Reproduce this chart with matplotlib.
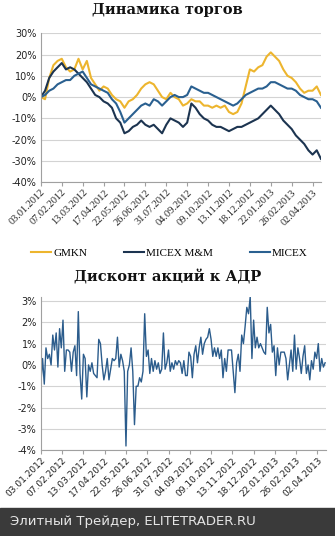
import matplotlib
matplotlib.use("Agg")
import matplotlib.pyplot as plt
from matplotlib.ticker import FuncFormatter
import numpy as np

# ---- data ----
tick_labels = ["03.01.2012", "07.02.2012", "13.03.2012", "17.04.2012", "22.05.2012",
               "26.06.2012", "31.07.2012", "04.09.2012", "09.10.2012", "13.11.2012",
               "18.12.2012", "22.01.2013", "26.02.2013", "02.04.2013"]
tick_step_days = 25  # trading days between labels
n_days = 336

# weekly samples (every 5 trading days), % change
gmkn = [0, -1, 9, 15, 17, 18, 14, 12, 13, 18, 13, 17, 9, 6, 3, 5, 4, 1, -1, -2,
        -5, -2, -1, 1, 4, 6, 7, 6, 3, 0, -1, 2, 0, -1, -4, -3, -1, -2, -2, -4,
        -4, -5, -4, -5, -4, -7, -8, -7, -3, 5, 13, 12, 14, 15, 19, 21, 19, 17, 13, 10,
        9, 7, 4, 2, 3, 3, 5, 1]
micex_mm = [0, 3, 9, 12, 14, 16, 13, 14, 13, 11, 9, 7, 4, 1, 0, -2, -3, -5, -10, -12,
            -17, -16, -14, -13, -11, -13, -14, -13, -15, -17, -13, -10, -11, -12, -14, -12, -3, -5, -8, -10,
            -11, -13, -14, -14, -15, -16, -15, -14, -14, -13, -12, -11, -10, -8, -6, -4, -6, -8, -11, -13,
            -15, -18, -20, -22, -25, -27, -25, -29]
micex = [0, 1, 3, 4, 6, 7, 8, 8, 10, 11, 12, 9, 6, 5, 4, 3, 2, -1, -3, -7,
         -12, -10, -8, -6, -4, -3, -4, -1, -2, -4, -2, 0, 1, 0, 0, 1, 5, 4, 3, 2,
         2, 1, 0, -1, -2, -3, -4, -3, -1, 1, 2, 3, 4, 4, 5, 7, 7, 6, 5, 4,
         4, 3, 1, 0, -1, -1, -2, -5]
weekly_step = 5

# ADR discount, every 2 trading days, %
discount = [-0.9, 0.3, -0.9, 0.8, 0.3, 0.5, 0.0, 1.4, 0.7, 1.5, -0.1, 1.7, 0.8,
            2.1, -0.3, 0.7, 0.7, 0.6, -0.3, 0.6, 0.9, -0.5, 2.5, -0.4, -1.6, 0.5,
            0.3, -1.5, 0.0, -0.3, 0.1, -0.4, -0.5, -0.6, 1.2, 1.0, 0.0, -0.7,
            -0.3, 0.3, -0.7, -0.2, 0.3, 0.2, 0.3, 1.3, -0.1, 0.5, 0.2, -0.3, -3.8,
            -0.3, 0.0, 0.8, -0.3, -2.8, -1.0, -1.0, -0.6, -0.8, -0.3, 2.4, 0.4, 0.7,
            -0.4, 0.3, -0.3, 0.2, -0.2, 0.1, -0.4, -0.2, 1.5, -0.2, 0.1, 0.7,
            -0.3, 0.1, -0.2, 0.2, 0.0, 0.2, 0.1, -0.4, 0.2, -0.5, -0.5, 0.6, 0.4,
            -0.6, 0.5, 0.9, 0.1, 0.8, 1.3, 0.5, 1.0, 1.2, 1.3, 1.7, 1.2,
            0.4, 0.8, 0.4, 0.8, 0.3, 0.7, -0.6, 0.3, -0.3, 0.7, 0.7, 0.7, -0.3,
            -1.3, 0.1, 0.5, -0.3, 1.4, 1.0, 1.8, 2.7, 2.4, 3.2, 0.3, 2.1,
            0.8, 1.3, 0.8, 1.0, 0.8, 0.6, 0.5, 2.7, 1.5, 1.9, 0.6, 0.9, -0.5,
            0.8, 0.0, 0.6, 0.6, 0.6, 0.3, -0.7, 0.0, 0.7, -0.3, 1.4, -0.2,
            0.8, 0.3, -0.4, 0.4, 0.9, -0.4, 0.0, -0.7, 0.2, -0.2, 0.6, 0.3, 1.0,
            -0.3, 0.3, -0.1, 0.1]
discount_step = 2

# ---- style ----
c_gold = "#EDB52E"
c_navy = "#1C3450"
c_blue = "#2A6090"
c_disc = "#2B5C8C"
grid_c = "#D3D3D3"
axis_c = "#A0A0A0"
serif = ["Liberation Serif", "DejaVu Serif"]
sans = ["DejaVu Sans"]

fig = plt.figure(figsize=(3.35, 5.36), dpi=100)
fig.patch.set_facecolor("white")

pct = FuncFormatter(lambda v, p: f"{int(round(v))}%".replace("\u2212", "-"))

def style_axes(ax, xfont, xsize):
    for s in ["top", "right"]:
        ax.spines[s].set_visible(False)
    ax.spines["left"].set_color(axis_c)
    ax.spines["bottom"].set_color(axis_c)
    ax.spines["left"].set_linewidth(0.8)
    ax.spines["bottom"].set_linewidth(0.8)
    ax.yaxis.grid(True, color=grid_c, linewidth=0.8)
    ax.set_axisbelow(True)
    ax.tick_params(axis="y", length=0, labelsize=7, pad=3, labelcolor="#222222")
    ax.tick_params(axis="x", length=3, color=axis_c, direction="out", pad=1)
    ticks = np.arange(len(tick_labels)) * tick_step_days
    ax.set_xticks(ticks)
    ax.set_xticklabels(tick_labels, rotation=45, ha="right", rotation_mode="anchor",
                       family=xfont, fontsize=xsize, color="#222222")
    for lab in ax.get_yticklabels():
        lab.set_family(sans)
    ax.set_xlim(0, n_days - 1)

# ---- top chart ----
ax1 = fig.add_axes([0.122, 0.660, 0.836, 0.278])
xw = np.arange(len(gmkn)) * weekly_step
l1, = ax1.plot(xw, gmkn, color=c_gold, lw=1.5, label="GMKN")
l2, = ax1.plot(xw, micex_mm, color=c_navy, lw=1.5, label="MICEX M&M")
l3, = ax1.plot(xw, micex, color=c_blue, lw=1.5, label="MICEX")
ax1.set_ylim(-40, 30)
ax1.set_yticks(np.arange(-40, 31, 10))
ax1.yaxis.set_major_formatter(pct)
style_axes(ax1, serif, 7.5)

fig.text(0.5, 0.981, "Динамика торгов", ha="center", va="center",
         family=["DejaVu Serif"], fontweight="bold", fontsize=10.5, color="#111111")

leg = fig.legend(handles=[l1, l2, l3], loc="center", bbox_to_anchor=(0.505, 0.528),
                 ncol=3, frameon=False, prop={"family": serif, "size": 8},
                 handlelength=1.8, columnspacing=3.3, handletextpad=0.2)

# ---- bottom chart ----
fig.text(0.5, 0.483, "Дисконт акций к АДР", ha="center", va="center",
         family=["DejaVu Serif"], fontweight="bold", fontsize=10.5, color="#111111")

ax2 = fig.add_axes([0.122, 0.160, 0.851, 0.2865])
xd = np.arange(len(discount)) * discount_step
ax2.plot(xd, discount, color=c_disc, lw=1.0)
ax2.set_ylim(-4, 3.2)
ax2.set_yticks(np.arange(-4, 4, 1))
ax2.yaxis.set_major_formatter(pct)
style_axes(ax2, sans, 6.5)

# ---- footer ----
fig.patches.append(plt.Rectangle((0, 0), 1, 0.052, transform=fig.transFigure,
                                 color="#3A3A3A", zorder=0))
fig.text(0.03, 0.027, "Элитный Трейдер, ELITETRADER.RU", ha="left", va="center",
         family=sans, fontsize=9.5, color="#E6E6E6")

fig.savefig("out.png", dpi=100, facecolor="white")
